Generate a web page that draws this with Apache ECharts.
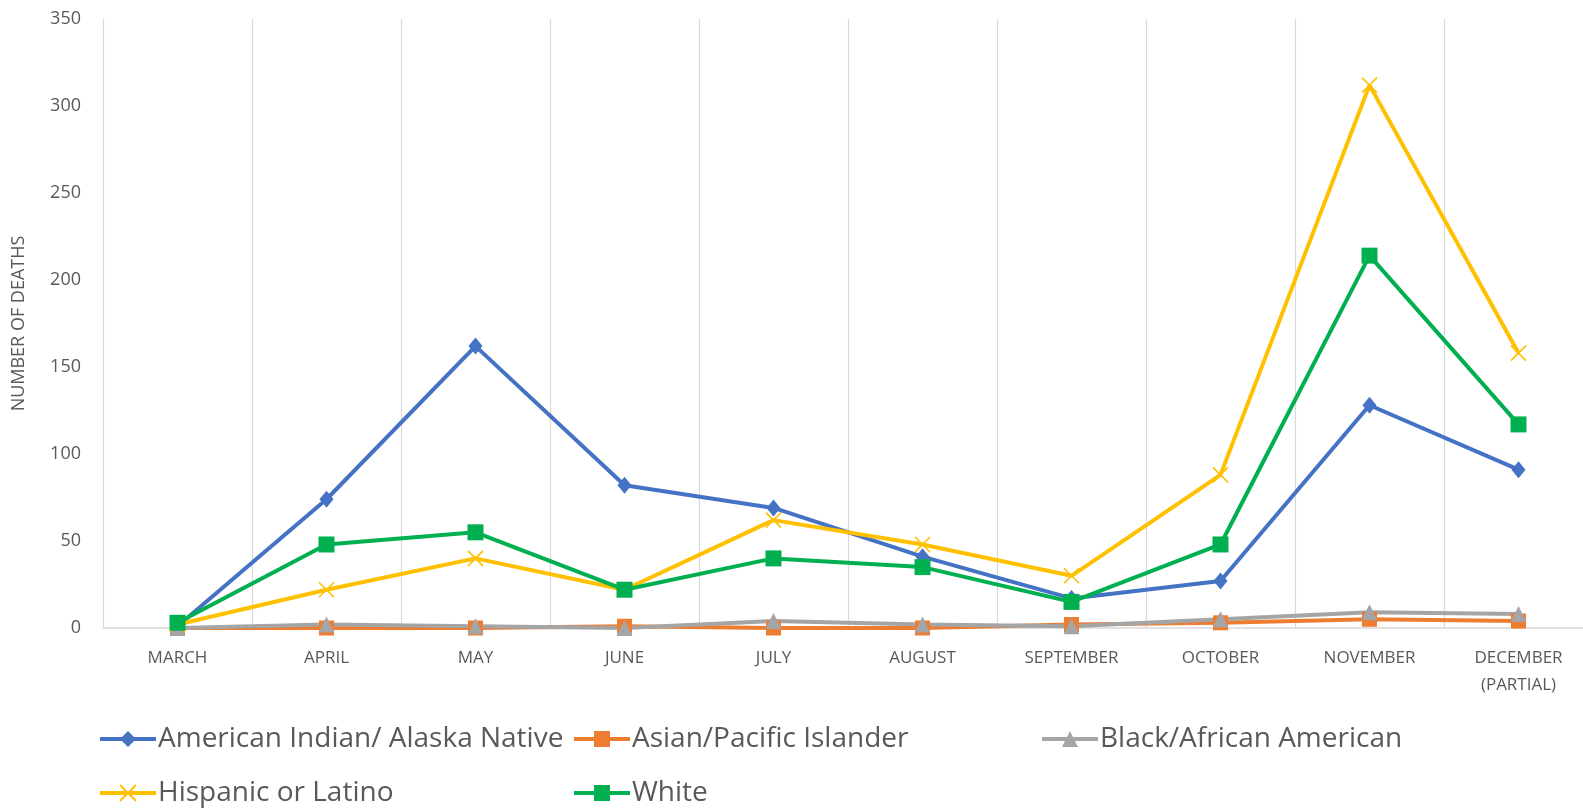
<!DOCTYPE html>
<html>
<head>
<meta charset="utf-8">
<script src="https://cdn.jsdelivr.net/npm/echarts@6/dist/echarts.min.js"></script>
<style>
html,body{margin:0;padding:0;background:#fff;overflow:hidden;}
#chart{width:1583px;height:809px;}
</style>
</head>
<body>
<div id="chart"></div>
<script>
const months = ['MARCH','APRIL','MAY','JUNE','JULY','AUGUST','SEPTEMBER','OCTOBER','NOVEMBER','DECEMBER (PARTIAL)'];
const yTicks = [0, 50, 100, 150, 200, 250, 300, 350];
const americanIndian = [1, 74, 162, 82, 69, 41, 17, 27, 128, 91];
const asianPacific = [0, 0, 0, 1, 0, 0, 2, 3, 5, 4];
const black = [0, 2, 1, 0, 4, 2, 1, 5, 9, 8];
const hispanic = [2, 22, 40, 22, 62, 48, 30, 88, 312, 158];
const white = [3, 48, 55, 22, 40, 35, 15, 48, 214, 117];

const font = '"Open Sans", sans-serif';
const xPath = 'path://M0,0L10,10M10,0L0,10';

function mkSeries(name, data, color, symbol, size, extra) {
  return Object.assign({
    name: name, type: 'line', data: data,
    symbol: symbol, symbolSize: size,
    lineStyle: {color: color, width: 4},
    itemStyle: {color: color},
    emphasis: {disabled: true}
  }, extra || {});
}

const series = [
  mkSeries('American Indian/ Alaska Native', americanIndian, '#4472C4', 'diamond', [14, 17]),
  mkSeries('Asian/Pacific Islander', asianPacific, '#ED7D31', 'rect', 15),
  mkSeries('Black/African American', black, '#A5A5A5', 'triangle', 16),
  mkSeries('Hispanic or Latino', hispanic, '#FFC000', xPath, 15, {
    itemStyle: {color: 'rgba(0,0,0,0)', borderColor: '#FFC000', borderWidth: 1.6}
  }),
  mkSeries('White', white, '#00B050', 'rect', 16)
];

const legendPos = [
  {name: 'American Indian/ Alaska Native', left: 98, top: 725},
  {name: 'Asian/Pacific Islander', left: 572, top: 725},
  {name: 'Black/African American', left: 1040, top: 725},
  {name: 'Hispanic or Latino', left: 98, top: 779},
  {name: 'White', left: 572, top: 779}
];

const chart = echarts.init(document.getElementById('chart'));
chart.setOption({
  animation: false,
  backgroundColor: '#fff',
  grid: {left: 103, width: 1490, top: 19, bottom: 181, containLabel: false, outerBoundsMode: 'none'},
  legend: legendPos.map(p => ({
    data: [p.name], left: p.left, top: p.top, padding: 0,
    itemWidth: 56, itemHeight: 20, itemGap: 1,
    lineStyle: {width: 4},
    textStyle: {fontFamily: font, fontSize: 28, color: '#595959', padding: [0, 0, 0, -3]},
    selectedMode: false
  })),
  xAxis: {
    type: 'category', data: months, boundaryGap: true,
    axisLine: {lineStyle: {color: '#d9d9d9', width: 1.5}},
    axisTick: {show: false},
    splitLine: {show: true, lineStyle: {color: '#d9d9d9', width: 1.2}},
    axisLabel: {
      interval: 0, margin: 17, color: '#595959',
      fontFamily: font, fontSize: 17, lineHeight: 27,
      formatter: v => v.replace(' (', '\n(')
    }
  },
  yAxis: {
    type: 'value', min: yTicks[0], max: yTicks[yTicks.length - 1], interval: 50,
    name: 'NUMBER OF DEATHS', nameLocation: 'middle', nameGap: 75, nameRotate: 90,
    nameTextStyle: {fontFamily: font, fontSize: 18, color: '#595959'},
    axisLine: {show: false}, axisTick: {show: false},
    splitLine: {show: false},
    axisLabel: {margin: 22, color: '#595959', fontFamily: font, fontSize: 18}
  },
  series: series
});
</script>
</body>
</html>
